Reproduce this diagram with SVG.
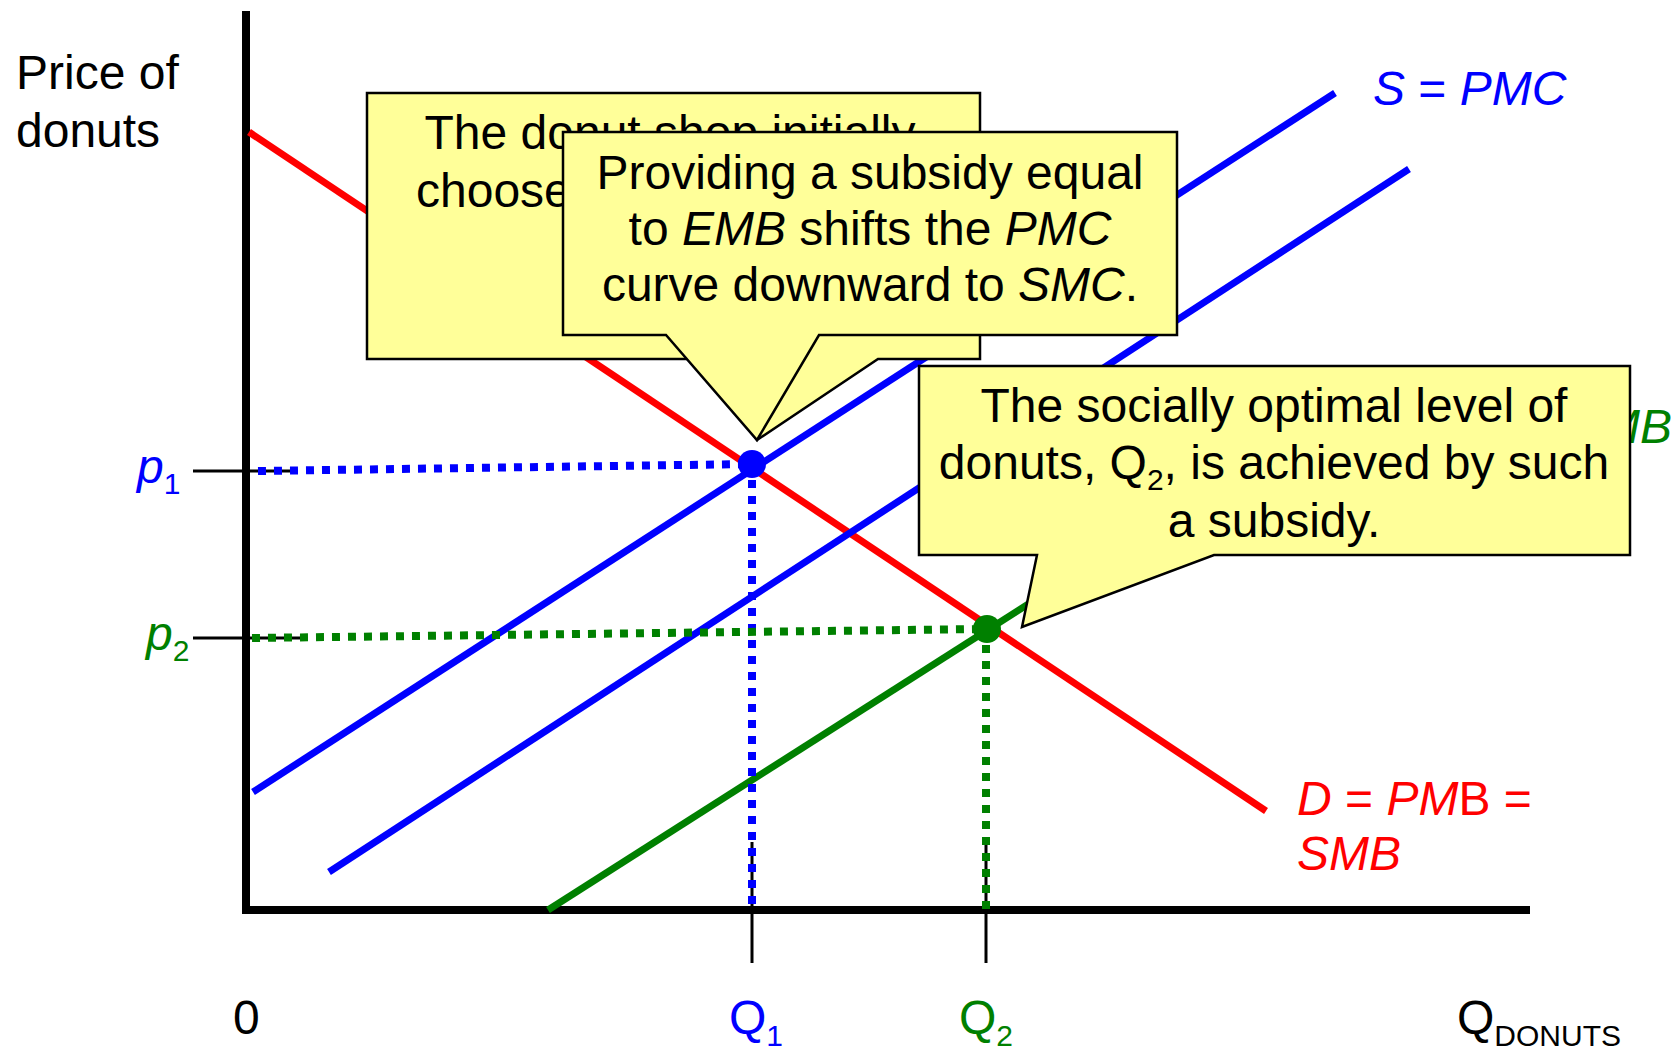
<svg xmlns="http://www.w3.org/2000/svg" width="1679" height="1051" viewBox="0 0 1679 1051">
<style>
text{font-family:"Liberation Sans",Arial,Helvetica,sans-serif;font-size:48px;fill:#000}
.c{text-anchor:middle}
.i{font-style:italic}
.b{fill:#0000ff}
.r{fill:#ff0000}
.g{fill:#008000}
.sub{font-size:30px}
.call{fill:#ffff99;stroke:#000;stroke-width:2.5;stroke-linejoin:miter}
.axis{stroke:#000;stroke-width:8;fill:none}
.tick{stroke:#000;stroke-width:3;fill:none}
.curve{stroke-width:7;fill:none}
.dot{stroke-width:8;stroke-dasharray:8 8;fill:none}
</style>
<rect width="1679" height="1051" fill="#fff"/>
<g id="axes">
<line class="axis" x1="246" y1="11" x2="246" y2="910"/>
<line class="axis" x1="242" y1="910" x2="1530" y2="910"/>
</g>
<g id="connectors">
<line id="demand" class="curve" stroke="#ff0000" x1="249" y1="132" x2="1266" y2="811"/>
<line id="pmc" class="curve" stroke="#0000ff" x1="253" y1="792" x2="1335" y2="93"/>
<line id="smc" class="curve" stroke="#0000ff" x1="329" y1="872" x2="1409" y2="169"/>
<line id="green" class="curve" stroke="#008000" x1="548" y1="910" x2="1380" y2="380"/>
<line class="tick" x1="193" y1="471" x2="298" y2="471"/>
<line class="tick" x1="193" y1="638" x2="300" y2="638"/>
<line class="tick" x1="752" y1="842" x2="752" y2="963"/>
<line class="tick" x1="986" y1="842" x2="986" y2="963"/>
<line class="dot" stroke="#0000ff" x1="258" y1="471" x2="752" y2="464"/>
<line class="dot" stroke="#0000ff" x1="752" y1="464" x2="752" y2="910"/>
<line class="dot" stroke="#008000" x1="252" y1="638" x2="986" y2="629"/>
<line class="dot" stroke="#008000" x1="986" y1="629" x2="986" y2="910"/>
</g>
<g id="point-q1p1"><circle cx="752" cy="464" r="14" fill="#0000ff"/></g>
<g id="point-q2p2"><circle cx="987" cy="629" r="14" fill="#008000"/></g>
<g id="labels">
<text x="16" y="89">Price of</text>
<text x="16" y="147">donuts</text>
<text class="b" x="137" y="483"><tspan class="i">p</tspan><tspan class="sub" dy="11">1</tspan></text>
<text class="g" x="146" y="650"><tspan class="i">p</tspan><tspan class="sub" dy="11">2</tspan></text>
<text x="233" y="1034">0</text>
<text class="b" x="729" y="1034">Q<tspan class="sub" dy="12">1</tspan></text>
<text class="g" x="959" y="1034">Q<tspan class="sub" dy="12">2</tspan></text>
<text x="1457" y="1034">Q<tspan class="sub" dy="12">DONUTS</tspan></text>
<text class="b" x="1373" y="105"><tspan class="i">S</tspan> = <tspan class="i">PMC</tspan></text>
<text class="r" x="1297" y="815"><tspan class="i">D</tspan> = <tspan class="i">PM</tspan>B =</text>
<text class="r i" x="1297" y="870">SMB</text>
<text class="g i" x="1672" y="443" text-anchor="end">MB</text>
</g>
<g id="callout-initial">
<path class="call" d="M367,93 H980 V359 H878 L757,440 L700,359 H367 Z"/>
<text class="c" x="670" y="149">The donut shop initially</text>
<text x="416" y="207">choose</text>
</g>
<g id="callout-subsidy">
<path class="call" d="M563,132 H1177 V335 H819 L757,440 L666,335 H563 Z"/>
<text class="c" x="870" y="189">Providing a subsidy equal</text>
<text class="c" x="870" y="245">to <tspan class="i">EMB</tspan> shifts the <tspan class="i">PMC</tspan></text>
<text class="c" x="870" y="301">curve downward to <tspan class="i">SMC</tspan>.</text>
</g>
<g id="callout-optimal">
<path class="call" d="M919,366 H1630 V555 H1214 L1022,627 L1037,555 H919 Z"/>
<text class="c" x="1274" y="422">The socially optimal level of</text>
<text class="c" x="1274" y="479">donuts, Q<tspan class="sub" dy="11">2</tspan><tspan dy="-11">, is achieved by such</tspan></text>
<text class="c" x="1274" y="537">a subsidy.</text>
</g>
</svg>
